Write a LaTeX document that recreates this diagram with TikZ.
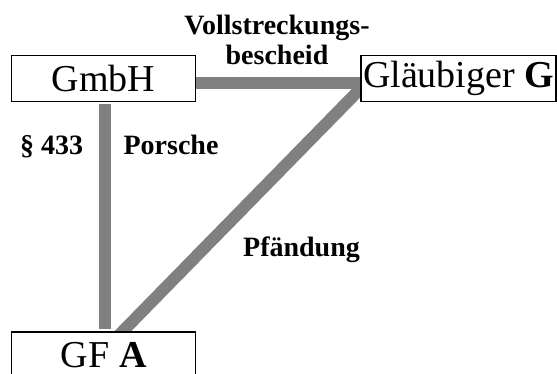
\documentclass[tikz,border=0pt]{standalone}
\usepackage{fontspec}
\setmainfont{Liberation Serif}
\usetikzlibrary{calc, backgrounds}
\definecolor{linkgray}{RGB}{128,128,128}

\begin{document}
\begin{tikzpicture}[x=0.5pt, y=-0.5pt,
        party/.style={rectangle, draw=black, line width=0.6pt, fill=white, inner sep=0pt, minimum width=92pt, minimum height=23pt, font=\fontsize{19}{22}\selectfont},
        link/.style={draw=linkgray, line width=6pt},
        linklabel/.style={anchor=base, align=center, font=\fontsize{14}{15}\selectfont\bfseries}]

        \useasboundingbox (0,0) rectangle (557,374);
        \clip (0,0) rectangle (557,374);

        %% Parties
        \node (gmbh) [party] at (103.7,78.6) {GmbH};
        \node (glaeubiger) [party, minimum width=97.5pt] at (458.5,78.6) {Gläubiger \textbf{G}};
        \node (gf) [party] at (103.7,355) {GF \textbf{A}};

        %% Links
        \begin{scope}[on background layer]
            \draw [link] ($(gmbh.east) + (-2,4)$) -- ($(glaeubiger.west) + (2,4)$);
            \draw [link] ($(gmbh.south) + (0.8,2)$) -- ($(gf.north) + (0.8,-2)$);
            \draw [link] ($(glaeubiger.west) + (5,5)$) -- ($(gf.north) + (14,5)$);
        \end{scope}

        %% Labels
        \node (vollstreckung) [linklabel] at (277,65) {Vollstreckungs-\\bescheid};
        \node (paragraph) [linklabel] at (51.7,155) {\S\ 433};
        \node (porsche) [linklabel] at (171,155) {Porsche};
        \node (pfaendung) [linklabel] at (301.5,256.7) {Pfändung};

    \end{tikzpicture}
\end{document}
